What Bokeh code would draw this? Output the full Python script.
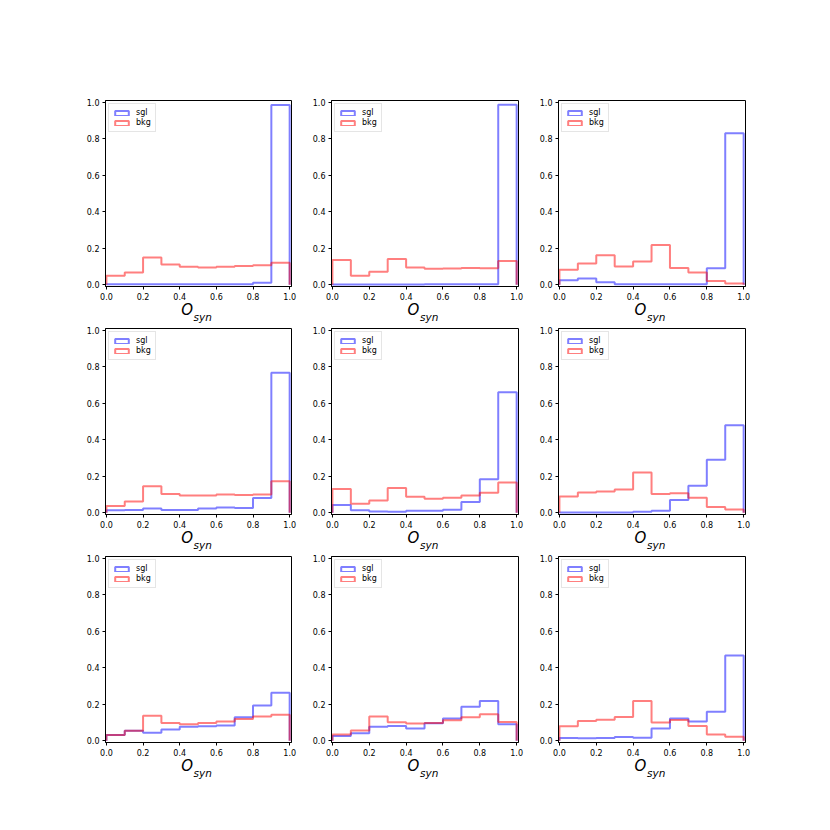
from bokeh.plotting import figure
from bokeh.layouts import column, row
from bokeh.models import (Legend, LegendItem, FixedTicker, Range1d, LinearAxis)
from bokeh.embed import file_html
from bokeh.resources import INLINE

# ---------------- data ----------------
bin_edges = [0.0, 0.1, 0.2, 0.3, 0.4, 0.5, 0.6, 0.7, 0.8, 0.9, 1.0]
tick_values = [0.0, 0.2, 0.4, 0.6, 0.8, 1.0]
tick_labels = ["0.0", "0.2", "0.4", "0.6", "0.8", "1.0"]
series_names = ["sgl", "bkg"]
xlabel_main = "O"
xlabel_sub = "syn"

sgl_1 = [0.002, 0.002, 0.002, 0.002, 0.002, 0.002, 0.002, 0.002, 0.010, 0.985]
bkg_1 = [0.049, 0.067, 0.149, 0.110, 0.098, 0.094, 0.098, 0.103, 0.107, 0.120]
sgl_2 = [0.001, 0.001, 0.001, 0.001, 0.001, 0.003, 0.002, 0.003, 0.003, 0.987]
bkg_2 = [0.136, 0.049, 0.071, 0.141, 0.094, 0.087, 0.089, 0.092, 0.090, 0.130]
sgl_3 = [0.024, 0.034, 0.013, 0.002, 0.002, 0.002, 0.002, 0.002, 0.090, 0.830]
bkg_3 = [0.082, 0.116, 0.161, 0.100, 0.127, 0.217, 0.091, 0.067, 0.020, 0.007]
sgl_4 = [0.013, 0.014, 0.023, 0.014, 0.014, 0.023, 0.029, 0.025, 0.080, 0.767]
bkg_4 = [0.036, 0.061, 0.145, 0.103, 0.094, 0.094, 0.099, 0.097, 0.099, 0.172]
sgl_5 = [0.042, 0.013, 0.007, 0.005, 0.011, 0.011, 0.016, 0.058, 0.183, 0.660]
bkg_5 = [0.130, 0.049, 0.067, 0.136, 0.087, 0.076, 0.082, 0.094, 0.109, 0.165]
sgl_6 = [0.001, 0.001, 0.001, 0.001, 0.005, 0.011, 0.069, 0.147, 0.290, 0.480]
bkg_6 = [0.089, 0.110, 0.116, 0.127, 0.221, 0.103, 0.107, 0.082, 0.031, 0.018]
sgl_7 = [0.031, 0.054, 0.043, 0.061, 0.076, 0.079, 0.083, 0.128, 0.193, 0.263]
bkg_7 = [0.031, 0.054, 0.137, 0.097, 0.090, 0.097, 0.105, 0.119, 0.133, 0.142]
sgl_8 = [0.025, 0.041, 0.077, 0.081, 0.067, 0.095, 0.122, 0.186, 0.218, 0.090]
bkg_8 = [0.034, 0.056, 0.133, 0.101, 0.094, 0.097, 0.112, 0.128, 0.145, 0.103]
sgl_9 = [0.014, 0.013, 0.014, 0.020, 0.016, 0.067, 0.121, 0.105, 0.159, 0.467]
bkg_9 = [0.079, 0.108, 0.115, 0.130, 0.218, 0.099, 0.113, 0.081, 0.034, 0.022]

panels = [
    [(sgl_1, bkg_1), (sgl_2, bkg_2), (sgl_3, bkg_3)],
    [(sgl_4, bkg_4), (sgl_5, bkg_5), (sgl_6, bkg_6)],
    [(sgl_7, bkg_7), (sgl_8, bkg_8), (sgl_9, bkg_9)],
]

# ---------------- style ----------------
FONT = "DejaVu Sans"
COLORS = ["#0000ff", "#ff0000"]
col_borders = [(105, 186, 10), (30, 187, 10), (30, 187, 20)]  # left, frame, right
row_borders = [(100, 186, 20), (3, 186, 20), (3, 186, 20)]    # top, frame, bottom
NAN = float("nan")


def step_outline(heights):
    xs = [bin_edges[0]]
    ys = [0.0]
    for i, h in enumerate(heights):
        xs += [bin_edges[i], bin_edges[i + 1]]
        ys += [h, h]
    xs.append(bin_edges[-1])
    ys.append(0.0)
    return xs, ys


def text_axis(pos, text, size, standoff):
    ax = LinearAxis(ticker=FixedTicker(ticks=[pos]),
                    major_label_overrides={pos: text})
    ax.axis_line_color = None
    ax.major_tick_line_color = None
    ax.minor_tick_line_color = None
    ax.major_tick_out = 0
    ax.major_tick_in = 0
    ax.minor_tick_out = 0
    ax.minor_tick_in = 0
    ax.major_label_text_font = FONT
    ax.major_label_text_font_style = "italic"
    ax.major_label_text_font_size = size
    ax.major_label_text_color = "black"
    ax.major_label_standoff = standoff
    return ax


def make_panel(sgl, bkg, cb, rb):
    left, fw, right = cb
    top, fh, bottom = rb
    p = figure(frame_width=fw, frame_height=fh,
               output_backend="svg", toolbar_location=None,
               x_range=Range1d(-0.005, 1.01), y_range=Range1d(-0.01, 1.01),
               min_border_left=left, min_border_right=right,
               min_border_top=top, min_border_bottom=bottom)
    p.background_fill_color = "white"
    p.border_fill_color = "white"
    p.outline_line_color = "black"
    p.outline_line_width = 1
    p.outline_line_alpha = 1
    p.xgrid.visible = False
    p.ygrid.visible = False
    for ax in (p.xaxis[0], p.yaxis[0]):
        ax.ticker = FixedTicker(ticks=tick_values)
        ax.major_label_overrides = {v: l for v, l in zip(tick_values, tick_labels)}
        ax.axis_line_color = "black"
        ax.major_tick_line_color = "black"
        ax.major_tick_out = 3
        ax.major_tick_in = 0
        ax.minor_tick_out = 0
        ax.minor_tick_in = 0
        ax.minor_tick_line_color = None
        ax.major_label_text_font = FONT
        ax.major_label_text_font_size = "8px"
        ax.major_label_text_color = "black"
        ax.major_label_standoff = 3

    items = []
    for name, vals, col in zip(series_names, (sgl, bkg), COLORS):
        xs, ys = step_outline(vals)
        p.line(xs, ys, line_color=col, line_alpha=0.5, line_width=2)
        proxy = p.quad(left=[NAN], right=[NAN], top=[NAN], bottom=[NAN],
                       fill_alpha=0, line_color=col, line_alpha=0.5, line_width=2)
        items.append(LegendItem(label=name, renderers=[proxy]))

    leg = Legend(items=items, location="top_left")
    leg.label_text_font = FONT
    leg.label_text_font_size = "8px"
    leg.label_text_color = "black"
    leg.glyph_width = 17
    leg.glyph_height = 6
    leg.label_height = 9
    leg.label_width = 14
    leg.label_standoff = 6
    leg.padding = 4
    leg.spacing = 1
    leg.margin = 3
    leg.border_line_color = "#cccccc"
    leg.border_line_width = 1
    leg.background_fill_alpha = 0.8
    p.add_layout(leg)

    # x-axis label "O_syn" as two text-only axes (subscript first, "O" pulled up)
    p.add_layout(text_axis(0.525, xlabel_sub, "10.5px", 8), "below")
    p.add_layout(text_axis(0.44, xlabel_main, "15px", -25), "below")
    return p


rows = []
for r, row_data in enumerate(panels):
    figs = [make_panel(s, b, col_borders[c], row_borders[r])
            for c, (s, b) in enumerate(row_data)]
    rows.append(row(*figs))

layout = column(*rows)
open("out.html", "w").write(file_html(layout, INLINE))
